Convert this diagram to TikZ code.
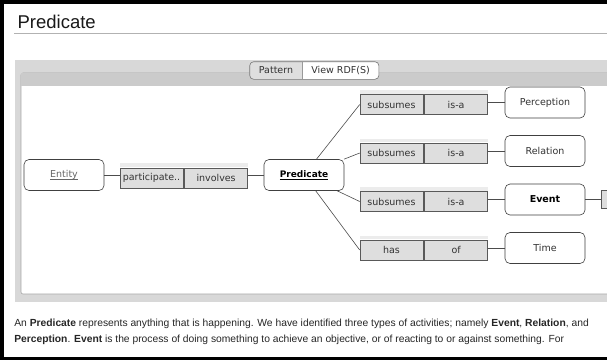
\documentclass[tikz,border=0pt]{standalone}
\usepackage{fontspec}
\setmainfont{Liberation Sans}
\newfontfamily\uifont{DejaVu Sans}
\usepackage{tikz}
\tikzset{>=latex}
\usetikzlibrary{positioning}
\definecolor{panelgray}{RGB}{216,216,216}
\definecolor{headgray}{RGB}{203,203,203}
\definecolor{relgray}{RGB}{222,222,222}
\definecolor{bandgray}{RGB}{236,236,236}
\newcommand*{\lnk}[1]{\underline{\raisebox{0pt}[\height][0pt]{#1}}}
\newcommand*{\ui}{\uifont\fontsize{9.5}{11}\selectfont}
\tikzset{
    concept/.style={draw=black!75, fill=white, rounded corners=5pt, minimum width=80pt, minimum height=31pt, inner sep=0pt, font=\ui, text=black!80},
    rel/.style={draw=black!65, fill=relgray, minimum width=63pt, minimum height=20pt, inner sep=0pt, font=\ui, text=black!80},
    band/.style={fill=bandgray},
    tab/.style={minimum height=17pt, inner sep=0pt, font=\ui, text=black!80},
}

\begin{document}
\begin{tikzpicture}[x=1pt, y=-1pt, line width=.6pt]
    \useasboundingbox(0,0)rectangle(607,360);
    \clip(0,0)rectangle(607,360);
    \fill[black](0,0)rectangle(607,360);
    \fill[white](4,4)rectangle(610,357);
    \node[anchor=base west, font=\fontsize{18.5}{20}\selectfont, text=black!90](title)at(14,28){Predicate};
    \draw[black!30](14,33)--(610,33);
    \fill[panelgray](15,60)rectangle(612,302);
    \draw[black!35, fill=white, rounded corners=2pt](21,73)rectangle(620,294);
    \fill[headgray](21.3,73.3)rectangle(619,86);
    \node[tab, minimum width=52pt](pattern)at(276,70.5){};
    \node[tab, minimum width=76pt, right=0pt of pattern](rdf){};
    \fill[white, rounded corners=4pt](pattern.north west)rectangle(rdf.south east);
    \fill[black!13](pattern.north east)[rounded corners=4pt]--(pattern.north west)--(pattern.south west)[sharp corners]--(pattern.south east)--cycle;
    \draw[black!55, rounded corners=4pt](pattern.north west)rectangle(rdf.south east);
    \draw[black!40](pattern.north east)--(pattern.south east);
    \node[tab]at(pattern){Pattern};
    \node[tab]at(rdf){View RDF(S)};
    \node[concept, text=black!60](entity)at(64,175){\lnk{Entity}};
    \node[rel](part)at(151.5,178){participate..};
    \node[rel, right=1pt of part](invol){involves};
    \node[concept, font=\uifont\fontsize{9}{11}\selectfont\bfseries, text=black](pred)at(304,175){\lnk{Predicate}};
    \node[rel](sub1)at(391.5,104.5){subsumes};
    \node[rel, right=1pt of sub1](isa1){is-a};
    \node[concept](perc)at(545,102.5){Perception};
    \node[rel](sub2)at(391.5,153){subsumes};
    \node[rel, right=1pt of sub2](isa2){is-a};
    \node[concept](relation)at(545,151){Relation};
    \node[rel](sub3)at(391.5,201.5){subsumes};
    \node[rel, right=1pt of sub3](isa3){is-a};
    \node[concept, font=\ui\bfseries, text=black](event)at(545,199.5){Event};
    \node[rel, anchor=west, minimum width=40pt, minimum height=18pt](next)at(601,199.5){};
    \node[rel](has)at(391.5,250){has};
    \node[rel, right=1pt of has](of){of};
    \node[concept](time)at(545,248){Time};
    \fill[band]([yshift=5pt]part.north west)rectangle([yshift=.4pt]invol.north east);
    \fill[band]([yshift=4pt]sub1.north west)rectangle([yshift=.4pt]isa1.north east);
    \fill[band]([yshift=4pt]sub2.north west)rectangle([yshift=.4pt]isa2.north east);
    \fill[band]([yshift=4pt]sub3.north west)rectangle([yshift=.4pt]isa3.north east);
    \fill[band]([yshift=4pt]has.north west)rectangle([yshift=.4pt]of.north east);
    \draw[black!70](entity.east)--(entity.east-|part.west);
    \draw[black!70](pred.west-|invol.east)--(pred.west);
    \draw[black!70](pred)--(sub1.west);
    \draw[black!70](pred)--(sub2.west);
    \draw[black!70](pred)--(sub3.west);
    \draw[black!70](pred)--(has.west);
    \draw[black!70](perc.west-|isa1.east)--(perc.west);
    \draw[black!70](relation.west-|isa2.east)--(relation.west);
    \draw[black!70](event.west-|isa3.east)--(event.west);
    \draw[black!70](time.west-|of.east)--(time.west);
    \draw[black!70](event)--(next);
    \node[anchor=base west, inner sep=0pt, font=\fontsize{10.3}{12}\selectfont, text=black!85](desc1)at(14,326){An \textbf{Predicate} represents anything that is happening. We have identified three types of activities; namely \textbf{Event}, \textbf{Relation}, and};
    \node[anchor=base west, inner sep=0pt, font=\fontsize{10.3}{12}\selectfont, text=black!85](desc2)at(14,342){\textbf{Perception}. \textbf{Event} is the process of doing something to achieve an objective, or of reacting to or against something. For};
\end{tikzpicture}
\end{document}
